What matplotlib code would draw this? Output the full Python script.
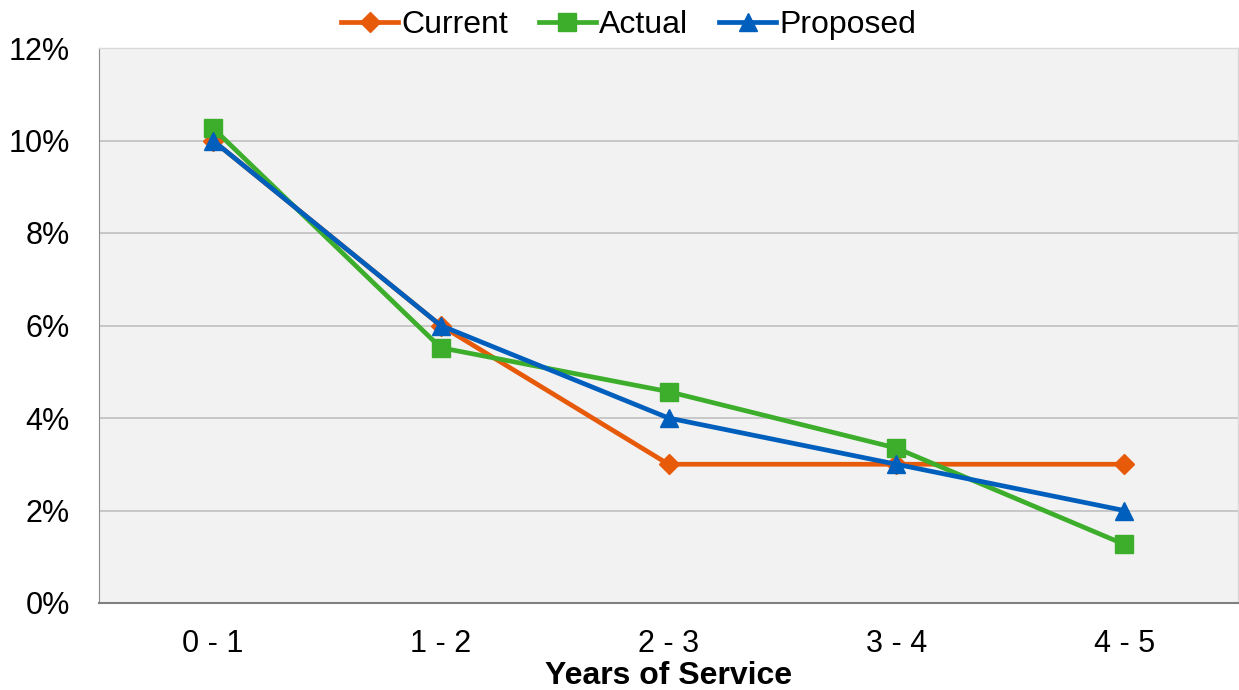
import matplotlib
matplotlib.use("Agg")
import matplotlib.pyplot as plt
from matplotlib.ticker import FuncFormatter

categories = ["0 - 1", "1 - 2", "2 - 3", "3 - 4", "4 - 5"]
current = [10.0, 6.0, 3.0, 3.0, 3.0]
actual = [10.27, 5.52, 4.57, 3.35, 1.27]
proposed = [10.0, 6.0, 4.0, 3.0, 2.0]

plt.rcParams['font.family'] = ['Liberation Sans', 'DejaVu Sans']

fig = plt.figure(figsize=(12.39, 6.9), dpi=100)
ax = fig.add_axes([99/1239, 87/690, 1139/1239, 555/690])
ax.set_facecolor('#F2F2F2')

x = list(range(len(categories)))
ax.plot(x, current, color='#E65A0A', lw=3.4, marker='D', ms=10.5, label='Current', zorder=3)
ax.plot(x, actual, color='#3DAE2B', lw=3.4, marker='s', ms=12.5, label='Actual', zorder=4)
ax.plot(x, proposed, color='#005EBD', lw=3.4, marker='^', ms=12.5, label='Proposed', zorder=5)

ax.set_xlim(-0.5, 4.5)
ax.set_ylim(0, 12)
ax.set_yticks(range(0, 13, 2))
ax.yaxis.set_major_formatter(FuncFormatter(lambda v, p: f"{int(v)}%"))
ax.set_xticks(x)
ax.set_xticklabels(categories)
ax.grid(axis='y', color='#C0C0C0', lw=1.2)
ax.set_axisbelow(True)
ax.tick_params(axis='both', length=0, labelsize=22, colors='black')
ax.tick_params(axis='x', pad=19)
ax.tick_params(axis='y', pad=21)
for s in ['top', 'right']:
    ax.spines[s].set_color('#D9D9D9')
    ax.spines[s].set_linewidth(1)
ax.spines['left'].set_color('#8C8C8C')
ax.spines['bottom'].set_color('#808080')
ax.spines['bottom'].set_linewidth(1.5)
ax.set_xlabel('Years of Service', fontsize=23, fontweight='bold', labelpad=1)

leg = ax.legend(loc='lower center', bbox_to_anchor=(0.465, 1.006), ncol=3, frameon=False,
                fontsize=23, handlelength=1.8, handletextpad=0.1, columnspacing=0.95,
                borderaxespad=0, borderpad=0.15)
fig.savefig('out.png', dpi=100)
